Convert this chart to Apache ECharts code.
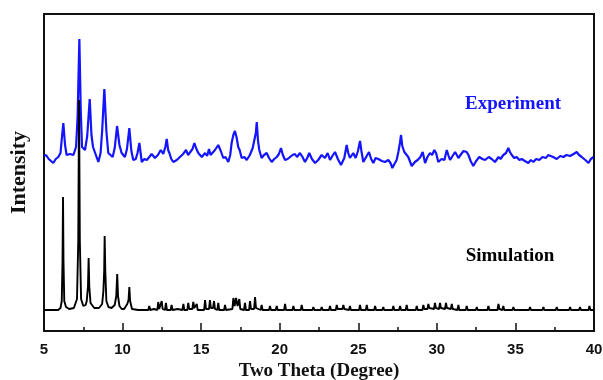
<!DOCTYPE html>
<html>
<head>
<meta charset="utf-8">
<script src="https://cdn.jsdelivr.net/npm/echarts@6/dist/echarts.min.js"></script>
<style>
  html, body { margin: 0; padding: 0; background: #fff; }
  #chart { width: 603px; height: 380px; }
</style>
</head>
<body>
<div id="chart"></div>
<script>
// Powder XRD patterns: measured vs. simulated from the crystal structure.
// Intensities are in arbitrary units; the measured trace is stacked above the simulated one.

const xTicks = [5, 10, 15, 20, 25, 30, 35, 40];

// [2-theta (deg), intensity]
const experiment = [
  [5.0,175],[5.13,176],[5.3,172],[5.59,168],[5.75,172],[5.91,174],[6.05,178],[6.12,190],[6.23,208],[6.34,186],
  [6.44,176],[6.65,177],[6.87,176],[7.04,184],[7.14,215],[7.25,292],[7.34,220],[7.42,184],[7.61,181],[7.75,195],
  [7.91,232],[8.02,196],[8.12,184],[8.3,176],[8.46,169],[8.6,178],[8.70,200],[8.84,242],[8.97,200],[9.09,178],
  [9.37,174],[9.50,183],[9.65,205],[9.80,186],[9.94,178],[10.15,174],[10.28,182],[10.43,203],
  [10.56,180],[10.68,171],[10.84,172],[10.95,178],[11.07,188],[11.22,169],[11.38,172],[11.54,171],[11.70,174],
  [11.85,177],[12.06,173],[12.25,176],[12.43,181],[12.59,177],[12.72,184],[12.81,192],[12.90,181],[12.98,178],
  [13.1,172],[13.23,169],[13.45,171],[13.65,174],[13.85,177],[14.04,181],[14.17,176],[14.29,178],[14.45,182],
  [14.57,188],[14.70,182],[14.82,178],[15.04,174],[15.25,178],[15.38,175],[15.50,182],[15.60,176],[15.71,174],
  [15.88,181],[16.09,186],[16.25,180],[16.41,173],[16.55,174],[16.73,169],[16.85,176],[16.94,188],[17.05,196],
  [17.15,200],[17.25,194],[17.36,184],[17.45,181],[17.58,173],[17.75,174],[17.90,171],[18.1,176],[18.28,183],
  [18.40,185],[18.48,198],[18.54,209],[18.62,190],[18.70,181],[18.85,173],[19.0,176],[19.17,178],[19.32,173],
  [19.49,169],[19.65,172],[19.81,174],[19.95,177],[20.08,183],[20.2,176],[20.34,171],[20.5,172],[20.66,174],
  [20.82,176],[20.97,177],[21.1,174],[21.29,178],[21.45,174],[21.61,169],[21.75,173],[21.88,178],[22.05,172],
  [22.25,168],[22.45,171],[22.67,176],[22.88,173],[23.05,178],[23.20,171],[23.35,175],[23.52,179],[23.7,172],
  [23.90,166],[24.11,173],[24.26,186],[24.36,178],[24.47,173],[24.68,178],[24.83,173],[24.98,180],[25.11,190],
  [25.2,180],[25.32,169],[25.5,174],[25.68,179],[25.82,172],[25.96,168],[26.1,173],[26.27,172],[26.5,170],
  [26.70,169],[26.91,171],[27.05,168],[27.17,163],[27.3,167],[27.44,171],[27.55,179],[27.65,188],[27.72,196],
  [27.8,185],[27.93,179],[28.05,177],[28.18,174],[28.40,165],[28.6,169],[28.78,171],[28.95,174],[29.10,179],
  [29.25,168],[29.4,174],[29.56,178],[29.70,176],[29.84,181],[29.95,178],[30.09,169],[30.3,172],[30.48,171],
  [30.63,181],[30.75,175],[30.84,171],[31.0,175],[31.16,179],[31.27,176],[31.37,173],[31.55,177],[31.70,180],
  [31.79,182],[31.9,179],[32.01,176],[32.15,170],[32.32,165],[32.5,170],[32.70,174],[32.9,172],[33.07,171],
  [33.3,174],[33.49,172],[33.70,169],[33.92,174],[34.05,172],[34.23,176],[34.4,178],[34.55,183],[34.65,179],
  [34.77,176],[34.92,173],[35.08,174],[35.25,171],[35.40,172],[35.6,170],[35.82,168],[35.98,171],[36.14,169],
  [36.32,172],[36.52,171],[36.72,174],[36.95,173],[37.08,176],[37.20,175],[37.4,174],[37.63,172],[37.85,175],
  [38.05,174],[38.25,176],[38.48,175],[38.7,177],[38.90,179],[39.05,176],[39.22,174],[39.45,171],[39.65,168],
  [39.8,172],[39.97,174]
];

const simulation = [
  [5.0,21],[5.9,21],[6.05,23],[6.13,30],[6.18,70],[6.21,134],[6.24,70],[6.29,30],[6.4,24],[6.6,22],[6.9,23],
  [7.0,25],[7.1,32],[7.18,90],[7.23,231],[7.28,90],[7.36,32],[7.5,25],[7.65,26],
  [7.72,30],[7.80,45],[7.84,73],[7.88,45],[7.96,28],[8.2,23],[8.5,23],[8.7,27],
  [8.78,40],[8.83,60],[8.86,95],[8.90,60],[8.97,30],[9.1,24],[9.3,23],[9.5,26],
  [9.60,35],[9.66,57],[9.71,35],[9.8,25],[9.95,22],[10.1,22],[10.3,27],
  [10.38,31],[10.43,44],[10.48,30],[10.6,22],[11.0,21],[11.5,21],
  [11.64,21],[11.70,25],[11.76,21],[12.0,22],[12.21,21],[12.27,29],[12.33,22],[12.43,22],[12.49,30],[12.55,22],
  [12.70,21],[12.76,28],[12.82,21],[13.06,21],[13.12,26],[13.18,21],[13.5,22],[13.81,21],[13.87,27],[13.93,21],
  [14.12,21],[14.18,28],[14.24,22],[14.44,22],[14.50,29],[14.56,23],[14.66,22],[14.72,27],[14.78,21],
  [15.19,21],[15.25,31],[15.31,22],[15.50,22],[15.56,31],[15.62,23],[15.76,23],[15.82,30],[15.88,22],
  [16.03,21],[16.09,28],[16.15,21],[16.46,21],[16.52,26],[16.58,21],[16.99,22],[17.05,33],[17.13,25],[17.22,33],
  [17.32,25],[17.43,32],[17.49,22],[17.73,21],[17.79,28],[17.85,21],[18.05,21],[18.11,30],[18.17,22],
  [18.37,22],[18.43,34],[18.49,23],[18.6,24],[18.79,21],[18.85,26],[18.91,21],[19.32,21],[19.38,25],[19.44,21],
  [19.75,21],[19.81,25],[19.87,21],[20.28,21],[20.34,27],[20.40,21],[20.81,21],[20.87,25],[20.93,21],
  [21.34,21],[21.40,26],[21.46,21],[22.08,21],[22.14,24],[22.20,21],[22.61,21],[22.67,24],[22.73,21],
  [23.14,21],[23.20,25],[23.26,21],[23.57,21],[23.63,26],[23.69,22],[23.99,22],[24.05,26],[24.11,22],
  [24.41,21],[24.47,25],[24.53,21],[25.05,21],[25.11,26],[25.17,21],[25.48,21],[25.54,26],[25.60,21],
  [26.01,21],[26.07,25],[26.13,21],[26.53,21],[26.59,24],[26.65,21],[27.17,21],[27.23,25],[27.29,21],
  [27.60,21],[27.66,25],[27.72,21],[28.02,21],[28.08,26],[28.14,21],[28.66,21],[28.72,25],[28.78,21],
  [29.08,21],[29.14,26],[29.20,22],[29.40,22],[29.46,27],[29.52,23],[29.82,22],[29.88,28],[29.94,23],
  [30.14,22],[30.20,28],[30.26,23],[30.52,22],[30.58,28],[30.64,23],[30.89,22],[30.95,27],[31.01,22],
  [31.31,21],[31.37,26],[31.43,21],[31.84,21],[31.90,25],[31.96,21],[32.48,21],[32.54,24],[32.60,21],
  [33.22,21],[33.28,25],[33.34,21],[33.86,21],[33.92,27],[33.98,22],[34.17,21],[34.23,25],[34.29,21],
  [34.81,21],[34.87,24],[34.93,21],[35.87,21],[35.93,24],[35.99,21],[36.72,21],[36.78,24],[36.84,21],
  [37.57,21],[37.63,24],[37.69,21],[38.42,21],[38.48,24],[38.54,21],[39.05,21],[39.11,24],[39.17,21],
  [39.65,21],[39.71,25],[39.77,21],[40.0,21]
];

const seriesLabels = ['Experiment', 'Simulation'];
const seriesColors = ['#1414ff', '#000000'];

const serif = '"Liberation Serif", "Times New Roman", serif';
const sans = '"Liberation Sans", Arial, sans-serif';

const chart = echarts.init(document.getElementById('chart'), null, { renderer: 'canvas' });

chart.setOption({
  animation: false,
  backgroundColor: '#ffffff',
  grid: {
    left: 44, right: 9, top: 14, bottom: 49,
    outerBoundsMode: 'none',
    show: true, borderColor: '#111', borderWidth: 2, backgroundColor: 'transparent'
  },
  xAxis: {
    type: 'value',
    min: xTicks[0], max: xTicks[xTicks.length - 1], interval: 5,
    name: 'Two Theta (Degree)',
    nameLocation: 'middle', nameGap: 31,
    nameTextStyle: { fontFamily: serif, fontWeight: 'bold', fontSize: 19, color: '#111' },
    axisLine: { show: true, lineStyle: { color: '#111', width: 2 } },
    axisTick: { show: true, inside: true, length: 8, lineStyle: { color: '#111', width: 1.5 } },
    minorTick: { show: true, splitNumber: 2, length: 4, lineStyle: { color: '#111', width: 1.5 } },
    splitLine: { show: false },
    axisLabel: { margin: 11, fontFamily: sans, fontWeight: 'bold', fontSize: 15, color: '#111' }
  },
  yAxis: {
    type: 'value', min: 0, max: 317,
    name: 'Intensity',
    nameLocation: 'middle', nameGap: 14,
    nameTextStyle: { fontFamily: serif, fontWeight: 'bold', fontSize: 22, color: '#111' },
    axisLine: { show: false }, axisTick: { show: false },
    axisLabel: { show: false }, splitLine: { show: false }
  },
  series: [
    {
      name: seriesLabels[0], type: 'line', data: experiment,
      showSymbol: false, smooth: false,
      lineStyle: { color: seriesColors[0], width: 2.2 }
    },
    {
      name: seriesLabels[1], type: 'line', data: simulation,
      showSymbol: false, smooth: false,
      lineStyle: { color: seriesColors[1], width: 1.9 }
    }
  ],
  graphic: [
    {
      type: 'text', x: 513, y: 104,
      style: { text: seriesLabels[0], fill: seriesColors[0],
        font: 'bold 19px ' + serif, align: 'center', verticalAlign: 'middle' }
    },
    {
      type: 'text', x: 510, y: 256,
      style: { text: seriesLabels[1], fill: seriesColors[1],
        font: 'bold 19px ' + serif, align: 'center', verticalAlign: 'middle' }
    }
  ]
});
</script>
</body>
</html>
